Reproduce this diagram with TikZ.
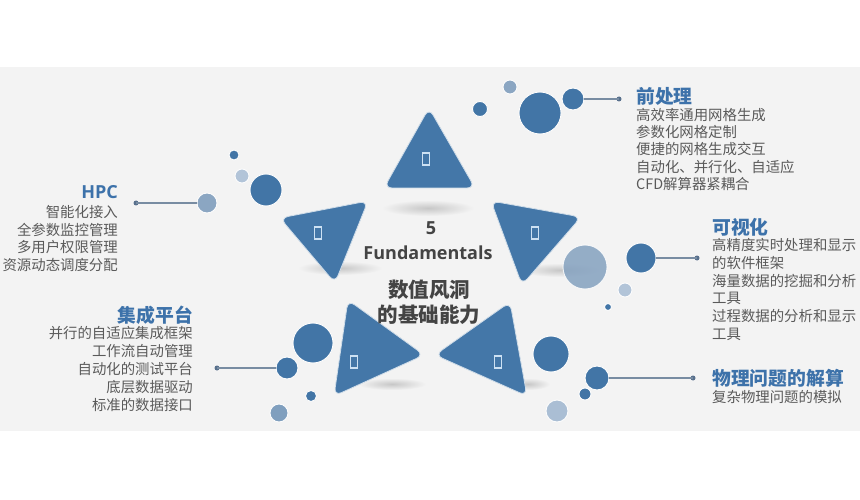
\documentclass[tikz,border=0pt]{standalone}
\usepackage{fontspec}
\setmainfont{Open Sans}
\newfontfamily\cjk{Noto Sans CJK SC}
\definecolor{bgc}{RGB}{243,243,243}
\definecolor{tblue}{RGB}{68,119,168}
\definecolor{dblue}{RGB}{66,117,166}
\definecolor{mblue}{RGB}{139,166,194}
\definecolor{lblue}{RGB}{178,196,216}
\definecolor{hblue}{RGB}{61,114,170}
\definecolor{bodyc}{RGB}{90,90,90}
\definecolor{centc}{RGB}{68,68,68}
\definecolor{connc}{RGB}{120,140,162}
\definecolor{dotc}{RGB}{88,112,140}
\definecolor{tofuc}{RGB}{205,225,243}
\tikzset{
  tri/.style={fill=tblue, draw=white!75!tblue, line width=0.8pt, rounded corners=8pt},
  ball/.style={circle, inner sep=0pt, minimum size=#1, draw=white!80!bgc, line width=0.9pt},
  dotn/.style={circle, inner sep=0pt, minimum size=5pt, fill=dotc},
  conn/.style={draw=connc, line width=1.1pt},
  tofu/.style={draw=tofuc, line width=1.3pt, inner sep=0pt, minimum width=7pt, minimum height=12pt},
  head/.style={font=\cjk\bfseries\fontsize{18.8}{22}\selectfont, text=hblue, inner sep=0pt},
  bodyt/.style={font=\cjk\fontsize{14.4}{17}\selectfont, text=bodyc, inner sep=0pt},
  cent/.style={text=centc, inner sep=0pt},
  shad/.style={inner color=black!22, outer color=bgc}
}
\begin{document}
\begin{tikzpicture}[x=1pt,y=-1pt]
\useasboundingbox (0,0) rectangle (860,500);
\fill[white] (0,0) rectangle (860,500);
\fill[bgc] (0,67) rectangle (860,431);
% shadows
\shade[shad] (428,208) ellipse (46 and 8);
\shade[shad] (340,268) ellipse (42 and 7);
\shade[shad] (560,270) ellipse (40 and 7);
\shade[shad] (392,384) ellipse (34 and 6);
\shade[shad] (528,384) ellipse (22 and 6);
% triangles
\draw[tri] (429,108) -- (475,188) -- (384,188) -- cycle;
\draw[tri] (280,218) -- (368,201) -- (335,283) -- cycle;
\draw[tri] (491,201) -- (581,217) -- (522,285) -- cycle;
\draw[tri] (348,300) -- (424,355) -- (334,396) -- cycle;
\draw[tri] (510,302) -- (527,396) -- (435,355) -- cycle;
\node[tofu] (t1) at (426,159) {};
\node[tofu] (t2) at (318,233) {};
\node[tofu] (t3) at (535,233) {};
\node[tofu] (t4) at (354,362) {};
\node[tofu] (t5) at (498,362) {};
% centre text
\node[cent, font=\bfseries\fontsize{18}{20}\selectfont] (c5) at (431,228) {5};
\node[cent, font=\bfseries\fontsize{18}{20}\selectfont] (cf) at (428,253) {Fundamentals};
\node[cent, font=\cjk\bfseries\fontsize{20.5}{24}\selectfont] (cz1) at (429,290) {数值风洞};
\node[cent, font=\cjk\bfseries\fontsize{20.5}{24}\selectfont] (cz2) at (429,315) {的基础能力};
% top-right cluster
\node[ball=15pt, fill=dblue] (p1) at (480,109) {};
\node[ball=14pt, fill=mblue] (p2) at (510,87) {};
\node[ball=42pt, fill=dblue] (p3) at (540,113) {};
\node[ball=22pt, fill=dblue] (p4) at (573,99) {};
\node[dotn] (pd) at (619,99) {};
\draw[conn] (p4.east) -- (pd.center);
% HPC cluster
\node[ball=10pt, fill=dblue] (h1) at (234,155) {};
\node[ball=14pt, fill=lblue] (h2) at (242,176) {};
\node[ball=32pt, fill=dblue] (h3) at (266,190) {};
\node[ball=20pt, fill=mblue] (h4) at (207,203) {};
\node[dotn] (hd) at (136,203) {};
\draw[conn] (hd.center) -- (h4.west);
% visual cluster
\node[ball=44pt, fill=mblue!90!dblue, opacity=0.85] (v1) at (585,267) {};
\node[ball=30pt, fill=dblue] (v2) at (641,258) {};
\node[ball=14pt, fill=lblue] (v3) at (625,290) {};
\node[ball=7pt, fill=dblue] (v4) at (608,307) {};
\node[dotn] (vd) at (697,258) {};
\draw[conn] (v2.east) -- (vd.center);
% integration cluster
\node[ball=40pt, fill=dblue] (i1) at (313,343) {};
\node[ball=22pt, fill=dblue] (i2) at (287,368) {};
\node[ball=11pt, fill=dblue] (i3) at (311,396) {};
\node[ball=18pt, fill=mblue!85!dblue] (i4) at (279,413) {};
\node[dotn] (id) at (217,368) {};
\draw[conn] (id.center) -- (i2.west);
% physics cluster
\node[ball=36pt, fill=dblue] (f1) at (551,354) {};
\node[ball=24pt, fill=dblue] (f2) at (597,378) {};
\node[ball=12pt, fill=dblue] (f3) at (585,394) {};
\node[ball=22pt, fill=lblue!80!mblue] (f4) at (557,411) {};
\node[dotn] (fd) at (693,378) {};
\draw[conn] (f2.east) -- (fd.center);
% texts: pre-processing
\node[head, anchor=base west] (pre) at (636,104) {前处理};
\foreach \t [count=\i from 0] in {高效率通用网格生成,参数化网格定制,便捷的网格生成交互,自动化、并行化、自适应,CFD解算器紧耦合}
  \node[bodyt, anchor=base west] (pre\i) at (636,120.5+17.2*\i) {\t};
% HPC
\node[head, font=\bfseries\fontsize{18}{22}\selectfont, anchor=base east] (hpc) at (118,198.5) {HPC};
\foreach \t [count=\i from 0] in {智能化接入,全参数监控管理,多用户权限管理,资源动态调度分配}
  \node[bodyt, anchor=base east] (hpc\i) at (118,217.5+17.6*\i) {\t};
% integration
\node[head, anchor=base east] (int) at (193,322) {集成平台};
\foreach \t [count=\i from 0] in {并行的自适应集成框架,工作流自动管理,自动化的测试平台,底层数据驱动,标准的数据接口}
  \node[bodyt, anchor=base east] (int\i) at (193,338.5+18*\i) {\t};
% visualisation
\node[head, anchor=base west] (vis) at (712,234) {可视化};
\foreach \t [count=\i from 0] in {高精度实时处理和显示,的软件框架,海量数据的挖掘和分析,工具,过程数据的分析和显示,工具}
  \node[bodyt, anchor=base west] (vis\i) at (712,250.5+17.8*\i) {\t};
% physics
\node[head, anchor=base west] (phy) at (712,385) {物理问题的解算};
\node[bodyt, anchor=base west] (phy0) at (712,402.5) {复杂物理问题的模拟};
\end{tikzpicture}
\end{document}
